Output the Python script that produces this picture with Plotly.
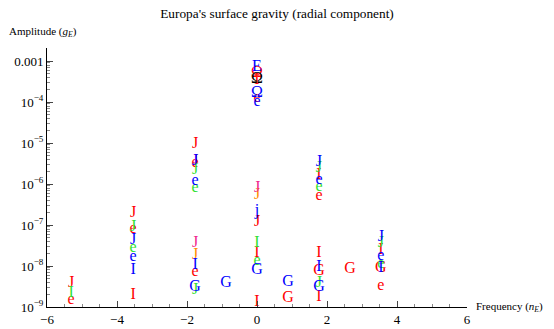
import plotly.graph_objects as go

# ---- data: (frequency, amplitude, label) per colour ----
red_x = [-5.31, -5.31, -3.54, -3.54, -3.54, -1.77, -1.77, -1.77, 0, 0, 0, 0, 0, 0,
         0.886, 1.77, 1.77, 1.77, 1.77, 1.77, 2.66, 3.54, 3.54, 3.54]
red_y = [3.85e-9, 1.45e-9, 1.96e-7, 8.2e-8, 1.96e-9, 9.5e-6, 3.3e-6, 7.3e-9, 5.1e-4, 3.4e-4,
         1.29e-4, 1.18e-7, 2.1e-8, 1.3e-9, 1.66e-9, 1.66e-6, 5.2e-7, 2.1e-8, 7.6e-9, 1.75e-9,
         8.5e-9, 2.45e-8, 8.9e-9, 3.3e-9]
red_t = ["J", "e", "J", "e", "I", "J", "e", "e", "Ω", "I", "e", "J", "I", "I",
         "G", "I", "e", "I", "G", "I", "G", "I", "G", "e"]

green_x = [-5.31, -3.54, -3.54, -1.77, -1.77, -1.77, 0, 0, 1.77, 1.77, 1.77, 3.54, 3.54]
green_y = [2.2e-9, 8.9e-8, 2.8e-8, 2.2e-6, 8.2e-7, 2.6e-9, 3.6e-8, 1.36e-8, 2.46e-6, 8.7e-7,
           3.85e-9, 3.6e-8, 1.15e-8]
green_t = ["I", "J", "e", "J", "e", "J", "I", "e", "J", "e", "J", "J", "e"]

orange_x = [-1.77, 0]
orange_y = [1.85e-8, 5.4e-7]
orange_t = ["J", "J"]

magenta_x = [-1.77, -1.77, 0]
magenta_y = [3.6e-6, 3.6e-8, 8.0e-7]
magenta_t = ["J", "J", "J"]

blue_x = [0, 0, 0, 0, 0, -0.886, 0.886, -3.54, -3.54, -3.54, -1.77, -1.77, -1.77, -1.77,
          1.77, 1.77, 1.77, 1.77, 3.54, 3.54, 3.54]
blue_y = [7.1e-4, 1.66e-4, 9.8e-5, 2.2e-7, 8.0e-9, 3.85e-9, 4.1e-9, 4.3e-8, 1.7e-8, 8.0e-9,
          3.6e-6, 1.22e-6, 1.06e-8, 3.1e-9, 3.4e-6, 1.29e-6, 9.5e-9, 3.1e-9, 5.1e-8, 1.8e-8,
          8.9e-9]
blue_t = ["E", "Ω", "e", "j", "G", "G", "G", "J", "e", "I", "J", "e", "I", "G",
          "J", "e", "I", "G", "J", "e", "I"]

black_x = [0]
black_y = [3.6e-4]
black_t = ["Ω"]

x_ticks = [-6, -4, -2, 0, 2, 4, 6]
x_ticktext = ["−6", "−4", "−2", "0", "2", "4", "6"]
y_ticks = [1e-9, 1e-8, 1e-7, 1e-6, 1e-5, 1e-4, 1e-3]
y_ticktext = ["10<sup>−9</sup>", "10<sup>−8</sup>", "10<sup>−7</sup>", "10<sup>−6</sup>",
              "10<sup>−5</sup>", "10<sup>−4</sup>", "0.001"]

SERIF = "Liberation Serif, Times New Roman, serif"
FS = 16

series = [
    (red_x, red_y, red_t, "#ff0000"),
    (green_x, green_y, green_t, "#2ee02e"),
    (orange_x, orange_y, orange_t, "#ff8c00"),
    (magenta_x, magenta_y, magenta_t, "#f0288c"),
    (blue_x, blue_y, blue_t, "#0000ff"),
    (black_x, black_y, black_t, "#000000"),
]

fig = go.Figure()
for xs, ys, ts, col in series:
    fig.add_trace(go.Scatter(
        x=xs, y=ys, text=ts, mode="text", textposition="middle center",
        textfont=dict(family=SERIF, size=FS, color=col), showlegend=False,
        hoverinfo="skip"))

minor_y = [m * 10.0 ** k for k in range(-9, -2) for m in range(2, 10)]

# page body has an 8px margin: figure is 8px smaller, margins compensate
W, H = 546, 321
L, R, T, B = 39, 87, 40, 22
PW, PH = W - L - R, H - T - B

fig.update_layout(
    width=W, height=H,
    margin=dict(l=L, r=R, t=T, b=B),
    plot_bgcolor="white", paper_bgcolor="white",
    font=dict(family=SERIF, size=13, color="#000"),
    title=dict(text="Europa's surface gravity (radial component)", x=(277 - 8) / W,
               xref="container", xanchor="center", y=1 - (13 - 8) / H, yanchor="middle",
               font=dict(family=SERIF, size=13.3, color="#000")),
    xaxis=dict(range=[-6, 6], showgrid=False, zeroline=False, showline=True,
               automargin=False,
               linecolor="#000", linewidth=1, ticks="inside", ticklen=6,
               tickcolor="#444", tickvals=x_ticks, ticktext=x_ticktext,
               tickfont=dict(family=SERIF, size=13),
               minor=dict(dtick=0.5, ticks="inside", ticklen=3, tickcolor="#888")),
    yaxis=dict(type="log", range=[-9, -2.68], showgrid=False, zeroline=False,
               automargin=False,
               showline=True, linecolor="#000", linewidth=1, ticks="inside",
               ticklen=6, tickcolor="#444", tickvals=y_ticks, ticktext=y_ticktext,
               tickfont=dict(family=SERIF, size=13),
               minor=dict(tickvals=minor_y, ticks="inside", ticklen=3, tickcolor="#888")),
)

fig.add_annotation(text="Amplitude (<i>g<sub>E</sub></i>)", xref="paper", yref="paper",
                   x=(7 - 47) / PW, y=(307 - 32) / PH, xanchor="left", yanchor="middle",
                   showarrow=False, font=dict(family=SERIF, size=11, color="#000"))
fig.add_annotation(text="Frequency (<i>n<sub>E</sub></i>)", xref="paper", yref="paper",
                   x=(474 - 47) / PW, y=0, xanchor="left", yanchor="middle",
                   showarrow=False, font=dict(family=SERIF, size=11, color="#000"))

fig.write_html("out.html")
